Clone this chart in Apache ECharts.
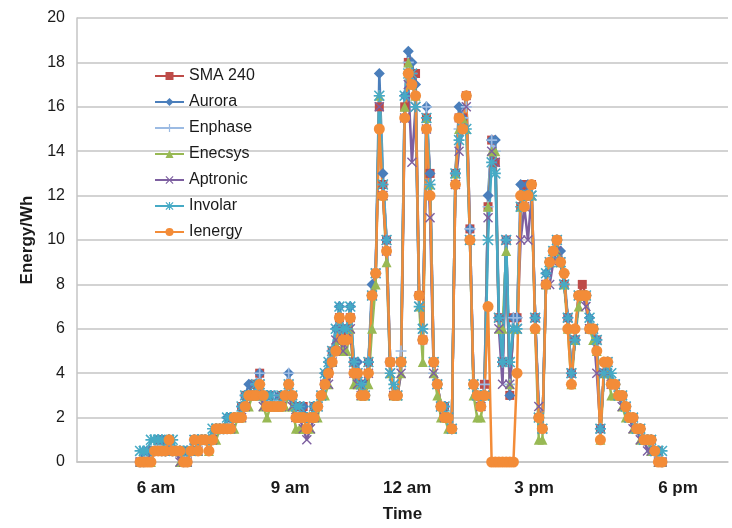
<!DOCTYPE html>
<html>
<head>
<meta charset="utf-8">
<script src="https://cdn.jsdelivr.net/npm/echarts@6/dist/echarts.min.js"></script>
<style>
  html, body { margin: 0; padding: 0; background: #fff; }
  #chart { width: 732px; height: 528px; }
</style>
</head>
<body>
<div id="chart"></div>
<script>
// x = sample number (5 minute readings), y = energy in Wh
var tickLabels = ['6 am', '9 am', '12 am', '3 pm', '6 pm'];
var tickSamples = [4.4, 41.4, 73.7, 108.7, 148.4];

var seriesNames = ['SMA 240', 'Aurora', 'Enphase', 'Enecsys', 'Aptronic', 'Involar', 'Ienergy'];

var sma240 = [0,0,0,0.5,0.5,1,1,1,1,0.5, 0.5,0.5,0,0.5,0.5,1,1,1,1,1,
  1,1.5,1.5,1.5,1.5,2,2,2,2.5,3, 3,3.5,3.5,4,3,3,3,2.5,2.5,3,
  3,3.5,3,2.5,2.5,2.5,2,2,2.5,2.5, 3,3.5,4,5,5,6.5,5.5,6,6.5,4.5,
  4,3.5,3.5,4.5,7.5,8.5,16,12.5,10,4.5, 3,3,4.5,16,18,17.5,17.5,7.5,5.5,15.5,
  13,4.5,3.5,2.5,2.5,2,1.5,13,15.5,15.5, 16.5,10.5,3.5,3,2.5,3.5,11.5,14.5,13.5,6.5,
  4.5,10,3,6.5,6.5,11.5,12.5,12,12.5,6.5, 2,1.5,8,9,9.5,10,9,8,6.5,4,
  5.5,7.5,8,7.5,6,6,5.5,1.5,4,4.5, 3.5,3.5,3,3,2.5,2,2,1.5,1.5,1, 1,1,0.5,0.5,0];

var aurora = [0,0.5,0.5,0.5,0.5,1,1,0.5,1,0.5, 0.5,0.5,0.5,0,0.5,1,1,1,1,1,
  1,1.5,1.5,1.5,2,2,2,2,2.5,3, 3.5,3,3.5,4,3,3,3,3,2.5,2.5,
  3,4,3,2.5,2,2.5,2,2,2.5,2.5, 3,4,4.5,5,6,7,6,6,7,4.5,
  4.5,3.5,3.5,4.5,8,8.5,17.5,13,10,4.5, 3,3,4.5,16.5,18.5,18,17,7.5,5.5,16,
  13,4.5,3.5,2.5,2.5,2,1.5,13,16,15.5, 16.5,10.5,3.5,3,2.5,3,12,14.5,14.5,6.5,
  4.5,10,3,6.5,6.5,12.5,12,12.5,12.5,6.5, 2,1.5,8.5,9,9.5,9.5,9.5,8.5,6.5,4,
  5.5,7.5,7.5,7.5,6.5,6,5.5,1.5,4,4, 3.5,3.5,3,3,2.5,2,2,1.5,1.5,1, 1,0.5,0.5,0.5,0];

var enphase = [0,0,0.5,0.5,0.5,1,0.5,0.5,1,0.5, 0.5,0.5,0,0.5,0.5,1,1,1,1,1,
  1,1.5,1.5,1.5,1.5,2,2,2,2.5,3, 3,3,3.5,4,3,3,2.5,3,2.5,2.5,
  3,4,3,2.5,2,2,2,2,2.5,2.5, 3,3.5,4.5,5,6,6.5,6,6,6.5,4.5,
  4,3.5,3,4.5,7.5,8.5,16.5,12.5,10,4.5, 3,3,5,16.5,18,17.5,16.5,7.5,5.5,16,
  12.5,4,3.5,2.5,2.5,2,1.5,13,15,15.5, 16,10.5,3.5,3,2.5,3.5,11.5,14.5,14,6.5,
  4.5,10,3.5,6.5,6.5,12,12,12,12.5,6.5, 2,1.5,8,9,9.5,10,9,8,6.5,4,
  5.5,7.5,7.5,7.5,6,6,5.5,1.5,4,4.5, 3.5,3.5,3,3,2.5,2,2,1.5,1.5,1, 1,1,0.5,0.5,0];

var enecsys = [0,0,0,0,0.5,0.5,0.5,0.5,0.5,0.5, 0.5,0,0,0,0.5,0.5,0.5,1,1,0.5,
  1,1,1.5,1.5,1.5,1.5,1.5,2,2,2.5, 2.5,3,3,3,2.5,2,2.5,2.5,2.5,2.5,
  2.5,3,2.5,1.5,1.5,1.5,1.5,1.5,2,2, 3,3,3.5,4.5,5,5.5,5,5,6,3.5,
  3.5,3,3,3.5,6,8,16.5,12,9,4, 3,3,4,16,18,17,16.5,7,4.5,15.5,
  12.5,4,3,2,2,1.5,1.5,13,15,15.5, 15,10,3,2,2,3,11.5,14,14,6,
  6,9.5,3.5,6,6,11.5,12,12,12,6, 1,1,8,9,9.5,9.5,9,8,6,3.5,
  5.5,7,7.5,7.5,6,5.5,5,1,4,4, 3,3,3,2.5,2,2,1.5,1.5,1,1, 1,0.5,0.5,0,0];

var aptronic = [0,0,0,0.5,0.5,0.5,0.5,0.5,1,0.5, 0.5,0,0,0,0.5,1,0.5,1,1,1,
  1,1.5,1.5,1.5,1.5,1.5,2,2,2,2.5, 3,3,3,3.5,2.5,2.5,2.5,2.5,2.5,2.5,
  3,3,2.5,2,2,1.5,1,1.5,2,2.5, 3,3.5,3.5,4.5,5.5,6,5,5.5,6,4,
  3.5,3,3,4,7.5,8.5,16,12,9.5,4, 3,3,4,15.5,17,13.5,16,7,6,15,
  11,4,3.5,2.5,2,2,1.5,12.5,14,15, 16,10,3.5,3,2.5,3,11,14,13.5,6,
  3.5,10,3.5,6,6,10,11.5,10,12,6.5, 2.5,1.5,8,8,9,9.5,9,8,6.5,4,
  5.5,7.5,7.5,7,6,6,4,1.5,4,4, 3.5,3.5,3,2.5,2.5,2,1.5,1.5,1,1, 0.5,0.5,0.5,0,0];

var involar = [0.5,0.5,0.5,1,1,1,1,0.5,1,1, 0.5,0.5,0.5,0.5,0.5,1,1,1,1,1,
  1.5,1.5,1.5,1.5,2,2,2,2,2.5,3, 3,3,3.5,3.5,3,3,3,2.5,2.5,3,
  3,3.5,3,2.5,2.5,2,2,2,2.5,2.5, 3,4,4.5,5,6,7,6,6,7,4.5,
  4,3.5,3,4.5,7.5,8.5,16.5,12.5,10,4, 3.5,3,4.5,16.5,17.5,17.5,16,7,6,15.5,
  12.5,4.5,3.5,2.5,2.5,2,1.5,13,14.5,15, 15,10,3.5,3,3,3,10,13.5,13,6.5,
  4.5,10,4.5,6,6,11.5,12,12,12,6.5, 2,1.5,8.5,9,9.5,10,9,8,6.5,4,
  5.5,7.5,7.5,7.5,6.5,6,5.5,1.5,4,4.5, 4,3.5,3,3,2.5,2,2,1.5,1.5,1, 1,1,0.5,0.5,0.5];

var ienergy = [0,0,0,0,0.5,0.5,0.5,0.5,1,0.5, 0.5,0.5,0,0,0.5,1,0.5,1,1,0.5,
  1,1.5,1.5,1.5,1.5,1.5,2,2,2,2.5, 3,3,3,3.5,3,2.5,2.5,2.5,2.5,2.5,
  3,3.5,3,2,2,2,1.5,2,2,2.5, 3,3.5,4,4.5,5,6.5,5.5,5.5,6.5,4,
  4,3,3,4,7.5,8.5,15,12,9.5,4.5, 3,3,4.5,15.5,17.5,17,16.5,7.5,5.5,15,
  12,4.5,3.5,2.5,2,2,1.5,12.5,15.5,15, 16.5,10,3.5,3,2.5,3,7,0,0,0,
  0,0,0,0,4,12,11.5,12,12.5,6, 2,1.5,8,9,9.5,10,9,8.5,6,3.5,
  6,7.5,7.5,7.5,6,6,5,1,4.5,4.5, 3.5,3.5,3,3,2.5,2,2,1.5,1.5,1, 1,1,0.5,0,0];

var seriesData = [sma240, aurora, enphase, enecsys, aptronic, involar, ienergy];
var colors = ['#BE4B48', '#4A7EBB', '#9CBBE3', '#98B954', '#7D5FA0', '#46AAC5', '#F38C38'];

var plusPath = 'path://M4.25,0H5.75V4.25H10V5.75H5.75V10H4.25V5.75H0V4.25H4.25Z';
var crossPath = 'path://M0,1L1,0L10,9L9,10Z M9,0L10,1L1,10L0,9Z';
var starPath = 'path://M4.25,0H5.75V4.25H10V5.75H5.75V10H4.25V5.75H0V4.25H4.25Z M0,1L1,0L10,9L9,10Z M9,0L10,1L1,10L0,9Z';
var symbols = ['rect', 'diamond', plusPath, 'triangle', crossPath, starPath, 'circle'];
var symbolSizes = [9, 11, 11, 10, 10, 11, 11];

var font = 'Liberation Sans, Arial, sans-serif';
var gridColor = '#c4c4c4';

var chart = echarts.init(document.getElementById('chart'));

var series = seriesNames.map(function (name, k) {
  return {
    name: name,
    type: 'line',
    data: seriesData[k].map(function (v, i) { return [i, v]; }),
    symbol: symbols[k],
    symbolSize: symbolSizes[k],
    showAllSymbol: true,
    lineStyle: { width: 2.5, color: colors[k] },
    itemStyle: { color: colors[k], borderWidth: 0 },
    emphasis: { disabled: true }
  };
});

chart.setOption({
  animation: false,
  backgroundColor: '#ffffff',
  grid: { left: 77, right: 4, top: 18, bottom: 61 },
  legend: {
    orient: 'vertical',
    left: 149,
    top: 63,
    itemWidth: 29,
    itemHeight: 10,
    itemGap: 10,
    textStyle: { fontFamily: font, fontSize: 16, color: '#1a1a1a', lineHeight: 16 },
    data: seriesNames
  },
  xAxis: {
    type: 'value',
    min: -17.4,
    max: 162.2,
    name: 'Time',
    nameLocation: 'middle',
    nameGap: 44,
    nameTextStyle: { fontFamily: font, fontSize: 17, fontWeight: 'bold', color: '#1a1a1a' },
    axisLine: { show: true, onZero: false, lineStyle: { color: gridColor, width: 1.5 } },
    axisTick: { show: false },
    splitLine: { show: false },
    axisLabel: {
      customValues: tickSamples,
      margin: 18,
      fontFamily: font,
      fontSize: 17,
      fontWeight: 'bold',
      color: '#1a1a1a',
      formatter: function (v) {
        var k = tickSamples.indexOf(v);
        return k >= 0 ? tickLabels[k] : '';
      }
    }
  },
  yAxis: {
    type: 'value',
    min: 0,
    max: 20,
    interval: 2,
    name: 'Energy/Wh',
    nameLocation: 'middle',
    nameGap: 41,
    nameTextStyle: { fontFamily: font, fontSize: 17, fontWeight: 'bold', color: '#1a1a1a' },
    axisLine: { show: true, onZero: false, lineStyle: { color: gridColor, width: 1.5 } },
    axisTick: { show: false },
    splitLine: { show: true, lineStyle: { color: gridColor, width: 1.5 } },
    axisLabel: { margin: 12, fontFamily: font, fontSize: 16, color: '#1a1a1a' }
  },
  series: series
});
</script>
</body>
</html>
